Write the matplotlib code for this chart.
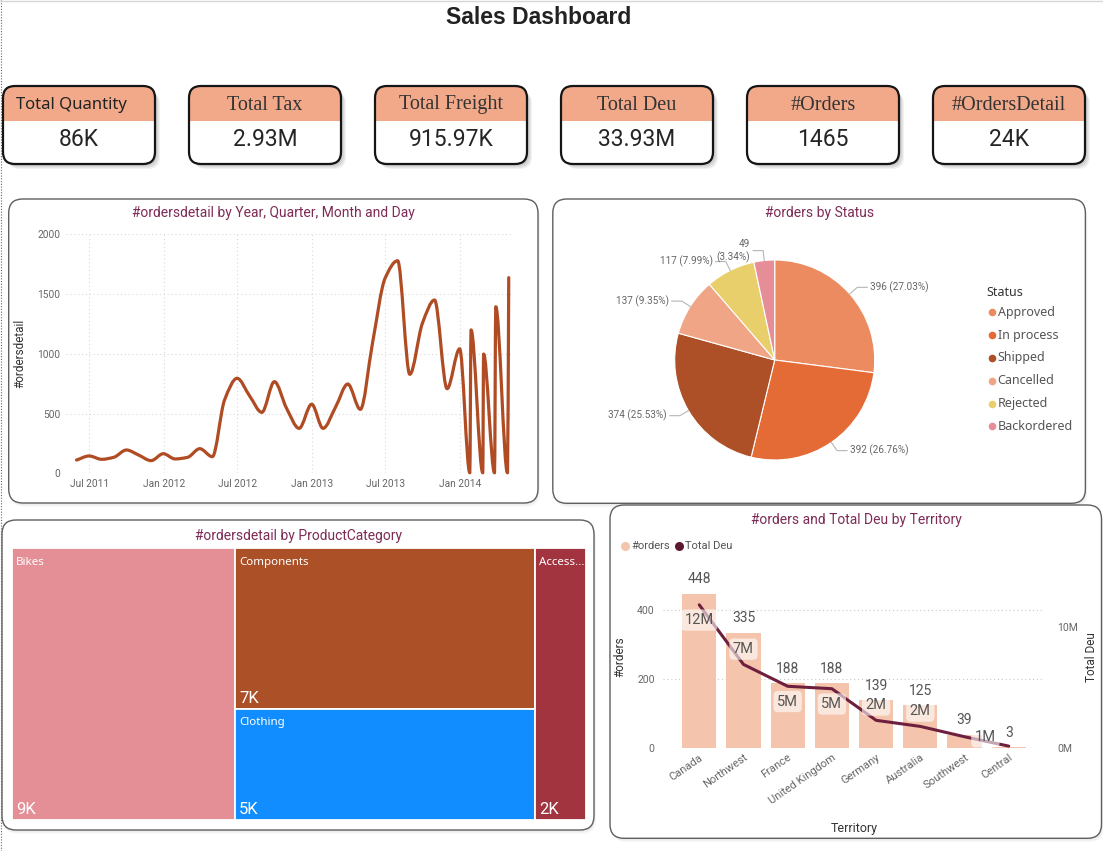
import numpy as np
import pandas as pd
import matplotlib
matplotlib.use("Agg")
import matplotlib.pyplot as plt
import matplotlib.dates as mdates
from matplotlib.patches import FancyBboxPatch, Rectangle, PathPatch
from matplotlib.path import Path
from matplotlib.ticker import FuncFormatter

W, H = 1103, 851

# ------------------------------------------------------------------ data
dashboard_title = "Sales Dashboard"
kpi_titles = ["Total Quantity", "Total Tax", "Total Freight", "Total Deu", "#Orders", "#OrdersDetail"]
kpi_values = ["86K", "2.93M", "915.97K", "33.93M", "1465", "24K"]

line_title = "#ordersdetail by Year, Quarter, Month and Day"
line_dates = ["2011-05-31", "2011-07-01", "2011-08-01", "2011-08-31", "2011-10-01", "2011-10-31",
              "2011-12-01", "2011-12-31", "2012-01-29", "2012-02-29", "2012-03-30", "2012-04-30",
              "2012-05-30", "2012-06-30", "2012-07-31", "2012-08-30", "2012-09-30", "2012-10-30",
              "2012-11-30", "2012-12-31", "2013-01-28", "2013-02-28", "2013-03-30", "2013-04-30",
              "2013-05-30", "2013-06-30", "2013-07-31", "2013-08-30", "2013-09-30", "2013-10-30",
              "2013-11-30", "2013-12-31", "2014-01-25", "2014-01-28", "2014-02-26", "2014-02-28",
              "2014-03-27", "2014-03-30", "2014-04-28", "2014-05-01"]
line_values = [111, 145, 117, 134, 195, 153,
               106, 164, 120, 134, 206, 139,
               613, 795, 647, 510, 767, 544,
               376, 578, 376, 555, 747, 535,
               1090, 1632, 1779, 828, 1255, 1450,
               708, 1042, 4, 1200, 4, 998,
               4, 1394, 4, 1637]
line_xticks = ["2011-07-01", "2012-01-01", "2012-07-01", "2013-01-01", "2013-07-01", "2014-01-01"]

pie_title = "#orders by Status"
status_labels = ["Approved", "In process", "Shipped", "Cancelled", "Rejected", "Backordered"]
status_orders = [396, 392, 374, 137, 117, 49]

tree_title = "#ordersdetail by ProductCategory"
category_names = ["Bikes", "Components", "Clothing", "Accessories"]
category_values = [9300, 7400, 5100, 2100]
category_columns = [["Bikes"], ["Components", "Clothing"], ["Accessories"]]

combo_title = "#orders and Total Deu by Territory"
territories = ["Canada", "Northwest", "France", "United Kingdom", "Germany", "Australia", "Southwest", "Central"]
territory_orders = [448, 335, 188, 188, 139, 125, 39, 3]
territory_deu = [11.8e6, 6.9e6, 5.1e6, 4.9e6, 2.3e6, 1.8e6, 0.95e6, 0.18e6]

# ------------------------------------------------------------------ styles
status_colors = ["#EB8B5F", "#E56B36", "#AD4F27", "#F0A587", "#E9CF6B", "#E68E98"]
category_colors = ["#E48E95", "#AC5027", "#118DFF", "#A1343F"]
deu_label_side = ["below", "above", "below", "below", "above", "above", "right", "none"]
TITLE_C = "#7D2B56"
DIN = "Roboto"
UI = "Noto Sans"

fig = plt.figure(figsize=(W / 100, H / 100), dpi=100)
fig.patch.set_facecolor("white")
bg = fig.add_axes([0, 0, 1, 1], zorder=0)
bg.set_xlim(0, W)
bg.set_ylim(H, 0)
bg.axis("off")


def frac(x0, y0, x1, y1):
    return [x0 / W, 1 - y1 / H, (x1 - x0) / W, (y1 - y0) / H]


def rbox(x0, y0, x1, y1, r, **kw):
    return FancyBboxPatch((x0, y0), x1 - x0, y1 - y0,
                          boxstyle=f"round,pad=0,rounding_size={r}", **kw)


def panel(x0, y0, x1, y1, r=14):
    for k in range(1, 5):
        bg.add_patch(rbox(x0 + k * 0.5, y0 + k, x1 + k * 0.5, y1 + k, r,
                          fc="black", ec="none", alpha=0.025))
    bg.add_patch(rbox(x0, y0, x1, y1, r, fc="white", ec="#5f5f5f", lw=1.0))


# page edges
bg.plot([1.2, 1.2], [0, H], color="#666666", lw=0.8, ls=(0, (1, 1.5)))
bg.plot([0, W], [1, 1], color="#d6d6d6", lw=1)

bg.text(539, 18, dashboard_title, ha="center", va="center", fontsize=16.5,
        fontweight="bold", family="Liberation Sans", color="#222222")

# ------------------------------------------------------------------ KPI cards
for i, (t, v) in enumerate(zip(kpi_titles, kpi_values)):
    x0 = 3 + i * 186
    x1 = x0 + 152
    y0, y1, yh = 86, 164, 121
    for k in range(1, 6):
        bg.add_patch(rbox(x0 + k, y0 + k + 1, x1 + k, y1 + k, 12,
                          fc="black", ec="none", alpha=0.05))
    base = rbox(x0, y0, x1, y1, 12, fc="white", ec="none")
    bg.add_patch(base)
    hdr = Rectangle((x0, y0), x1 - x0, yh - y0, fc="#F1A98A", ec="none")
    bg.add_patch(hdr)
    hdr.set_clip_path(base)
    bg.add_patch(rbox(x0, y0, x1, y1, 12, fc="none", ec="#151515", lw=1.6))
    cx = (x0 + x1) / 2
    if i == 0:
        bg.text(cx - 8, 105, t, ha="center", va="center", fontsize=12,
                family=UI, color="#222222")
    else:
        bg.text(cx, 105, t, ha="center", va="center", fontsize=14.5,
                family="Liberation Serif", color="#333333")
    bg.text(cx, 140, v, ha="center", va="center", fontsize=16.5, family=DIN,
            color="#252525")

# ------------------------------------------------------------------ panels
panel(8.7, 199, 538, 503)
panel(552.8, 199, 1085.4, 503.3)
panel(2, 520, 594, 830)
panel(610, 505, 1101.5, 838.3)

# ------------------------------------------------------------------ line chart
bg.text(273.5, 213.3, line_title, ha="center", va="center", fontsize=10,
        family=DIN, color=TITLE_C)
ax1 = fig.add_axes(frac(66, 234.3, 514, 473.3), zorder=2)
ax1.patch.set_alpha(0)
xs = mdates.date2num(pd.to_datetime(line_dates))
ys = np.array(line_values, dtype=float)

n = len(xs)
hh = np.diff(xs)
dd = np.diff(ys) / hh
m = np.zeros(n)
m[0], m[-1] = dd[0], dd[-1]
for k in range(1, n - 1):
    if dd[k - 1] * dd[k] <= 0:
        m[k] = 0.0
    else:
        w1 = 2 * hh[k] + hh[k - 1]
        w2 = hh[k] + 2 * hh[k - 1]
        m[k] = (w1 + w2) / (w1 / dd[k - 1] + w2 / dd[k])
verts = [(xs[0], ys[0])]
codes = [Path.MOVETO]
for i in range(n - 1):
    verts += [(xs[i] + hh[i] / 3, ys[i] + m[i] * hh[i] / 3),
              (xs[i + 1] - hh[i] / 3, ys[i + 1] - m[i + 1] * hh[i] / 3),
              (xs[i + 1], ys[i + 1])]
    codes += [Path.CURVE4] * 3
ax1.add_patch(PathPatch(Path(verts, codes), fc="none", ec="#B04C24", lw=2.3,
                        capstyle="round", joinstyle="round", clip_on=False))
ax1.set_xlim(mdates.date2num(pd.Timestamp("2011-05-05")),
             mdates.date2num(pd.Timestamp("2014-05-14")))
ax1.set_ylim(0, 2000)
ax1.set_yticks([0, 500, 1000, 1500, 2000])
ax1.set_xticks(mdates.date2num(pd.to_datetime(line_xticks)))
ax1.xaxis.set_major_formatter(mdates.DateFormatter("%b %Y"))
ax1.grid(True, color="#d9d9d9", ls=(0, (1, 2.5)), lw=0.8)
ax1.set_axisbelow(True)
for s in ax1.spines.values():
    s.set_visible(False)
ax1.tick_params(length=0, labelsize=7.3, labelcolor="#666666", pad=4)
for lab in ax1.get_xticklabels() + ax1.get_yticklabels():
    lab.set_family(DIN)
ax1.set_ylabel("#ordersdetail", fontsize=8.5, color="#333333", family=DIN)
ax1.yaxis.set_label_coords((26 - 66) / 448, 0.5)

# ------------------------------------------------------------------ pie
bg.text(819.8, 213.3, pie_title, ha="center", va="center", fontsize=10,
        family=DIN, color=TITLE_C)
ax2 = fig.add_axes(frac(624.7, 210, 924.7, 510), zorder=2)
ax2.pie(status_orders, colors=status_colors, startangle=90, counterclock=False,
        radius=1, wedgeprops=dict(edgecolor="white", linewidth=0.8))
ax2.set_xlim(-1.5, 1.5)
ax2.set_ylim(-1.5, 1.5)
ax2.axis("off")
total = sum(status_orders)
theta = 90.0
for v in status_orders:
    span = v / total * 360
    mid = np.deg2rad(theta - span / 2)
    theta -= span
    ex, ey = np.cos(mid), np.sin(mid)
    bx, by = 1.1 * ex, 1.1 * ey
    side = 1 if ex >= 0 else -1
    hx = bx + side * 0.1
    ax2.plot([ex, bx, hx], [ey, by, by], color="#b5b5b5", lw=0.8, clip_on=False)
    pct = v / total * 100
    txt = f"{v} ({pct:.2f}%)" if pct >= 5 else f"{v}\n({pct:.2f}%)"
    ax2.text(hx + side * 0.03, by, txt, ha="left" if side > 0 else "right",
             va="center", fontsize=7.2, color="#666666", family=DIN,
             linespacing=1.3, clip_on=False)

bg.text(986.7, 292.3, "Status", fontsize=9, fontweight="bold", family=UI,
        color="#333333", va="center")
for i, (lab, c) in enumerate(zip(status_labels, status_colors)):
    yy = 312.3 + i * 22.8
    bg.plot(991.6, yy, "o", ms=5.5, color=c, mec="none")
    bg.text(997.5, yy, lab, fontsize=9, family=UI, color="#555555", va="center")

# ------------------------------------------------------------------ treemap
bg.text(299, 535.7, tree_title, ha="center", va="center", fontsize=10,
        family=DIN, color=TITLE_C)
ax5 = fig.add_axes(frac(11.6, 548.3, 585.6, 820), zorder=2)
ax5.set_xlim(0, 1)
ax5.set_ylim(1, 0)
ax5.axis("off")
val = dict(zip(category_names, category_values))
col = dict(zip(category_names, category_colors))
tot = float(sum(category_values))
cx = 0.0
for group in category_columns:
    gsum = sum(val[g] for g in group)
    gw = gsum / tot
    cy = 0.0
    for name in group:
        gh = val[name] / gsum
        ax5.add_patch(Rectangle((cx, cy), gw, gh, fc=col[name], ec="white", lw=1.3))
        wpx = gw * 574
        label = name
        if len(name) * 6.6 > wpx - 8:
            label = name[:int((wpx - 8) / 7)] + "..."
        ax5.annotate(label, (cx, cy), xytext=(3, -6), textcoords="offset points",
                     ha="left", va="top", fontsize=8.3, fontweight="semibold",
                     family=UI, color="white")
        ax5.annotate(f"{val[name] / 1000:.0f}K", (cx, cy + gh), xytext=(3, 2),
                     textcoords="offset points", ha="left", va="bottom",
                     fontsize=12, family=DIN, color="white")
        cy += gh
    cx += gw

# ------------------------------------------------------------------ combo
bg.text(856.7, 520, combo_title, ha="center", va="center", fontsize=10,
        family=DIN, color=TITLE_C)
bg.plot(625, 546, "o", ms=6.5, color="#F4C4AC", mec="none")
bg.text(631, 546, "#orders", fontsize=8, family=DIN, color="#555555", va="center")
bg.plot(679, 546, "o", ms=6.5, color="#5E1830", mec="none")
bg.text(685, 546, "Total Deu", fontsize=8, family=DIN, color="#555555", va="center")

ax3 = fig.add_axes(frac(663, 580, 1041.7, 748.3), zorder=2)
ax3.patch.set_alpha(0)
xpos = np.arange(len(territories))
ax3.bar(xpos, territory_orders, width=0.775, color="#F4C4AC", zorder=2)
ax3.set_xlim(-0.82, 7.745)
ax3.set_ylim(0, 487.8)
ax3.set_yticks([0, 200, 400])
ax3.grid(axis="y", color="#c8c8c8", ls=(0, (1, 2.5)), lw=0.8)
ax3.set_axisbelow(True)
for s in ax3.spines.values():
    s.set_visible(False)
ax3.tick_params(length=0, labelsize=7.5, labelcolor="#666666")
ax3.tick_params(axis="y", pad=6)
ax3.tick_params(axis="x", pad=3, labelsize=8)
ax3.set_xticks(xpos)
ax3.set_xticklabels(territories, rotation=35, ha="right", rotation_mode="anchor")
for lab in ax3.get_xticklabels() + ax3.get_yticklabels():
    lab.set_family(DIN)
for xi, v in zip(xpos, territory_orders):
    ax3.annotate(f"{v}", (xi, v), xytext=(0, 10.5), textcoords="offset points",
                 ha="center", va="center", fontsize=10, color="#555555", family=DIN)
ax3.set_ylabel("#orders", fontsize=8.5, color="#333333", family=DIN)
ax3.yaxis.set_label_coords((626.7 - 663) / 378.7, 0.544)
ax3.set_xlabel("Territory", fontsize=9, color="#333333", family=DIN)
ax3.xaxis.set_label_coords((854.3 - 663) / 378.7, (748.3 - 821.7) / 168.3)

ax4 = ax3.twinx()
ax4.plot(xpos, territory_deu, color="#6E1F3D", lw=2.2, zorder=3,
         solid_capstyle="round")
ax4.set_ylim(0, 13.84e6)
ax4.set_yticks([0, 10e6])
ax4.yaxis.set_major_formatter(FuncFormatter(lambda v, p: f"{v / 1e6:.0f}M"))
for s in ax4.spines.values():
    s.set_visible(False)
ax4.tick_params(length=0, labelsize=7.5, labelcolor="#666666", pad=11)
for lab in ax4.get_yticklabels():
    lab.set_family(DIN)
ax4.set_ylabel("Total Deu", fontsize=8.5, color="#333333", family=DIN)
ax4.yaxis.set_label_coords((1085 - 663) / 378.7, 0.544)
offsets = {"below": (0, -11), "above": (0, 11), "right": (15, 0)}
for xi, v, side in zip(xpos, territory_deu, deu_label_side):
    if side == "none":
        continue
    ax4.annotate(f"{v / 1e6:.0f}M", (xi, v), xytext=offsets[side],
                 textcoords="offset points", ha="center", va="center",
                 fontsize=10.5, color="#555555", family=DIN, zorder=5,
                 bbox=dict(boxstyle="round,pad=0.25,rounding_size=0.3",
                           fc="white", ec="none", alpha=0.6))

fig.savefig("out.png", dpi=100, facecolor="white")
